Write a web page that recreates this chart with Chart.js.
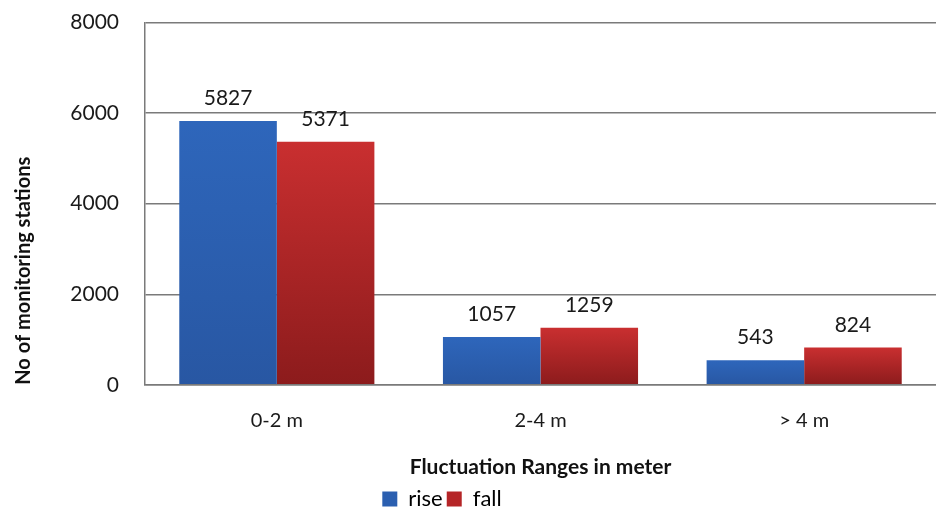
<!DOCTYPE html>
<html>
<head>
<meta charset="utf-8">
<script src="https://cdn.jsdelivr.net/npm/chart.js@4"></script>
<style>
html,body{margin:0;padding:0;background:#fff;overflow:hidden;}
#outer{width:936px;height:516px;position:relative;overflow:hidden;}
#wrap{width:936px;height:536px;position:absolute;left:0;top:-16px;}
</style>
</head>
<body>
<div id="outer"><div id="wrap"><canvas id="c"></canvas></div></div>
<script>
const categories = ['0-2 m', '2-4 m', '> 4 m'];
const riseValues = [5827, 1057, 543];
const fallValues = [5371, 1259, 824];
const yTicks = [0, 2000, 4000, 6000, 8000];

const FONT = 'Lato, "Open Sans", sans-serif';

function barGradient(top, bottom, fallback) {
  return (ctx) => {
    const chart = ctx.chart;
    if (!chart.chartArea || ctx.type !== 'data') return fallback;
    const ys = chart.scales.y;
    const yTop = ys.getPixelForValue(ctx.raw);
    const yBot = ys.getPixelForValue(0);
    if (!isFinite(yTop) || yBot - yTop < 1) return fallback;
    const g = chart.ctx.createLinearGradient(0, yTop, 0, yBot);
    g.addColorStop(0, top);
    g.addColorStop(1, bottom);
    return g;
  };
}

const valueLabels = {
  id: 'valueLabels',
  afterDatasetsDraw(chart) {
    const c = chart.ctx;
    c.save();
    c.font = '21px ' + FONT;
    c.fillStyle = '#1a1a1a';
    c.textAlign = 'center';
    c.textBaseline = 'bottom';
    chart.data.datasets.forEach((ds, i) => {
      chart.getDatasetMeta(i).data.forEach((el, j) => {
        c.fillText(String(ds.data[j]), el.x, el.y - 12);
      });
    });
    c.restore();
  }
};

const legendShift = {
  id: 'legendShift',
  afterLayout(chart) {
    const lg = chart.legend;
    if (lg) { lg.left -= 30; lg.right -= 30; }
  }
};

new Chart(document.getElementById('c'), {
  type: 'bar',
  data: {
    labels: categories,
    datasets: [
      { label: 'rise', data: riseValues,
        backgroundColor: barGradient('#2e66bb', '#2857a3', '#2b5fb0') },
      { label: 'fall', data: fallValues,
        backgroundColor: barGradient('#c92f30', '#8c1b1c', '#b52527') }
    ]
  },
  options: {
    responsive: true,
    maintainAspectRatio: false,
    animation: false,
    layout: { padding: { top: 0, right: 0, left: 8, bottom: 0 } },
    datasets: { bar: { categoryPercentage: 0.74, barPercentage: 1.0 } },
    plugins: {
      tooltip: { enabled: false },
      legend: {
        position: 'bottom',
        labels: {
          font: { family: FONT, size: 22 },
          color: '#1a1a1a',
          boxWidth: 15, boxHeight: 15,
          padding: 4,
          generateLabels(chart) {
            return [
              { text: 'rise', fillStyle: '#2b5fb0', strokeStyle: '#2b5fb0', lineWidth: 0, datasetIndex: 0 },
              { text: 'fall', fillStyle: '#b52527', strokeStyle: '#b52527', lineWidth: 0, datasetIndex: 1 }
            ];
          }
        }
      }
    },
    scales: {
      x: {
        grid: { display: false, drawTicks: false },
        border: { display: true, color: '#7a7a7a', width: 1.5 },
        ticks: { font: { family: FONT, size: 20 }, color: '#1a1a1a', padding: 24 },
        title: { display: true, text: 'Fluctuation Ranges in meter',
          font: { family: FONT, size: 21, weight: 'bold' }, color: '#111', padding: { top: -2, bottom: 4 } }
      },
      y: {
        min: 0, max: 8000,
        afterBuildTicks(axis) { axis.ticks = yTicks.map(v => ({ value: v })); },
        afterFit(axis) { axis.width = 137; },
        grid: { color: '#7a7a7a', lineWidth: 1.5, drawTicks: false },
        border: { display: true, color: '#7a7a7a', width: 1.5 },
        ticks: { font: { family: FONT, size: 21 }, color: '#1a1a1a', padding: 26,
          callback: (v) => String(v) },
        title: { display: true, text: 'No of monitoring stations', align: 'start',
          font: { family: FONT, size: 20, weight: 'bold' }, color: '#111', padding: { top: 4, bottom: 0 } }
      }
    }
  },
  plugins: [valueLabels, legendShift]
});
</script>
</body>
</html>
